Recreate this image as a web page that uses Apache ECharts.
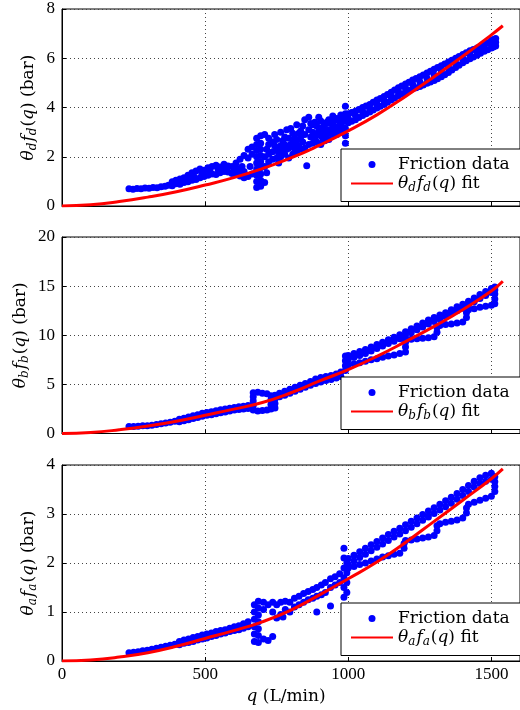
<!DOCTYPE html>
<html>
<head>
<meta charset="utf-8">
<script src="https://cdn.jsdelivr.net/npm/echarts@6/dist/echarts.min.js"></script>
<style>
html, body { margin: 0; padding: 0; background: #fff; }
#chart { width: 520px; height: 710px; }
</style>
</head>
<body>
<div id="chart"></div>
<script>
// fitted curves, sampled along q (L/min)
var fitQ = [0, 100, 200, 300, 400, 500, 600, 700, 800, 900, 1000, 1100, 1200, 1300, 1400, 1500, 1540];
var fitD = [0, 0.05, 0.18, 0.36, 0.58, 0.85, 1.15, 1.52, 1.95, 2.47, 3.05, 3.70, 4.45, 5.25, 6.08, 6.95, 7.32];
var fitB = [0, 0.10, 0.38, 0.76, 1.25, 1.86, 2.48, 3.15, 4.15, 5.35, 6.50, 7.85, 9.35, 10.90, 12.60, 14.50, 15.50];
var fitA = [0, 0.02, 0.08, 0.17, 0.30, 0.46, 0.62, 0.80, 1.04, 1.35, 1.68, 2.02, 2.42, 2.85, 3.28, 3.72, 3.92];

// friction data: each row is [q, value, value, ...] (all points measured at that q)
var frictionD = [
  [234,0.70],[248,0.68],[262,0.71],[276,0.70],[290,0.73],[304,0.72],[318,0.75],[332,0.74],[346,0.78],[360,0.80],[372,0.84],
  [385,0.82,0.98],[398,0.90,1.05],[405,0.95],[412,0.88,1.10],[426,0.95,1.15],[433,1.05],[440,0.98,1.25],[454,1.05,1.35],
  [461,1.20],[468,1.08,1.42],[482,1.15,1.50],[489,1.30],[496,1.20,1.45],[510,1.25,1.55],[517,1.40],[524,1.30,1.60],
  [538,1.28,1.65],[545,1.50],[552,1.35,1.58],[566,1.40,1.70],[573,1.55],[580,1.38,1.62],[594,1.32,1.60],[601,1.45],
  [608,1.30,1.55,1.75],[622,1.22,1.45,1.90],[629,1.60],[636,1.15,1.40,2.05],[650,1.20,1.95,2.30],[657,1.60],
  [664,1.30,2.10,2.40],
  [680,0.75,1.00,1.25,1.50,1.75,2.00,2.25,2.50,2.75],[694,0.80,1.05,1.30,1.55,1.80,2.05,2.30,2.55,2.85],
  [708,0.95,1.60,2.00,2.90],[715,1.35,2.30],[722,1.80,2.10,2.50,2.75],[736,1.90,2.20,2.60],[743,2.45,2.90],
  [750,1.95,2.30,2.70],[757,1.75,2.15],[764,2.00,2.45,3.00],[771,2.25,2.65],[778,2.10,2.50,2.80],[785,2.30,3.10],
  [792,1.95,2.35,2.75],[799,2.50,3.15],[806,2.10,2.55,2.95],[813,2.35,2.75],[820,2.20,2.65,3.30],[827,2.45,2.95],
  [834,2.30,2.80,3.05],[841,2.60,3.25],[848,2.35,2.90,3.50],[855,1.63],[862,2.50,3.10,3.60],[869,2.80,3.35],
  [876,2.55,3.00,3.30],[883,2.75,3.40],[890,2.60,2.90,3.25],[897,3.05,3.60],[904,2.50,2.85,3.45],[911,2.75,3.20],
  [918,2.65,3.00,3.30],[925,2.90,3.40],[932,2.70,3.10,3.50],[939,3.00,3.35],[946,2.90,3.30,3.65],[953,3.10,3.50],
  [960,2.90,3.20,3.55],[967,3.05,3.45],[974,3.00,3.35,3.70],[981,3.20,3.60],
  [990,2.55,2.85,3.15,3.45,3.75,4.05],
  [1000,3.38,3.56,3.75],[1012,3.44,3.80],[1025,3.50,3.68,3.85],[1037,3.59,3.92],[1050,3.68,3.84,4.00],[1062,3.75,4.06],
  [1075,3.82,3.97,4.12],[1087,3.90,4.21],[1100,3.98,4.14,4.30],[1112,4.05,4.37],[1125,4.12,4.28,4.45],[1137,4.21,4.53],
  [1150,4.30,4.46,4.62],[1162,4.39,4.71],[1175,4.48,4.64,4.80],[1187,4.55,4.87],[1200,4.62,4.78,4.95],[1212,4.69,5.03],
  [1225,4.76,4.94,5.12],[1237,4.80,5.18],[1250,4.85,5.05,5.25],[1262,4.91,5.32],[1275,4.98,5.19,5.40],[1287,5.04,5.47],
  [1300,5.10,5.32,5.55],[1312,5.17,5.62],[1325,5.25,5.48,5.70],[1337,5.33,5.77],[1350,5.42,5.64,5.85],[1362,5.52,5.92],
  [1375,5.62,5.81,6.00],[1387,5.72,6.07],[1400,5.82,5.98,6.15],[1412,5.90,6.22],[1425,5.98,6.14,6.30],[1437,6.05,6.36],
  [1450,6.12,6.27,6.42],[1462,6.20,6.48],[1475,6.28,6.42,6.55],[1487,6.35,6.63],[1500,6.42,6.57,6.72],[1507,6.46,6.76],
  [1515,6.50,6.65,6.80]
];

var frictionB = [
  [234,0.72],[250,0.70],[266,0.74],[282,0.78],[298,0.80],[314,0.85],[330,0.92],[346,1.00],[362,1.08],[378,1.15],[394,1.25],
  [410,1.20,1.45],[426,1.30,1.55],[442,1.40,1.68],[458,1.52,1.80],[474,1.62,1.92],[490,1.75,2.05],[506,1.85,2.15],
  [522,1.92,2.22],[538,2.00,2.32],[554,2.10,2.42],[570,2.20,2.50],[586,2.30,2.58],[602,2.38,2.65],[618,2.45,2.72],
  [634,2.50,2.78],[650,2.55,2.85],
  [668,2.40,2.85,3.30,3.75,4.15],[684,2.30,4.20],[700,2.35,4.10],[716,2.40,4.05],[730,2.50,2.95,3.40,3.85],
  [744,2.60,3.05,3.50,3.90],
  [760,3.75,4.10],[778,3.90,4.30],[796,4.10,4.50],[814,4.30,4.70],[832,4.50,4.90],[850,4.70,5.10],[868,4.90,5.30],
  [886,5.10,5.55],[904,5.25,5.70],[922,5.40,5.80],[940,5.50,5.90],[958,5.65,6.05],[974,5.80,6.25],
  [990,6.40,6.90,7.40,7.90],
  [1000,7.00,7.55,7.95],[1020,7.10,7.75,8.15],[1040,7.20,7.95,8.35],[1060,7.35,8.15,8.55],[1080,7.50,8.40,8.80],
  [1100,7.60,8.65,9.05],[1120,7.75,8.90,9.30],[1140,7.90,9.15,9.55],[1160,8.00,9.40,9.80],[1180,8.15,9.65,10.05],
  [1200,8.30,8.80,9.25,9.60,9.95,10.35],
  [1220,9.60,10.25,10.65],[1240,9.65,10.55,10.95],[1260,9.70,10.85,11.25],[1280,9.75,11.15,11.55],[1300,9.85,11.40,11.80],
  [1310,10.30,10.80],
  [1320,11.00,11.65,12.05],[1340,11.10,11.90,12.30],[1360,11.15,12.20,12.60],[1380,11.25,12.50,12.90],[1400,11.35,12.75,13.15],
  [1413,11.80,12.30],
  [1420,12.60,13.05,13.45],[1440,12.70,13.40,13.80],[1460,12.85,13.75,14.15],[1480,12.95,14.05,14.45],[1500,13.05,14.35,14.75],
  [1512,13.20,13.70,14.20,14.60,14.90]
];

var frictionA = [
  [234,0.17],[250,0.18],[266,0.19],[282,0.21],[298,0.22],[314,0.24],[330,0.26],[346,0.28],[362,0.30],[378,0.32],[394,0.34],
  [410,0.33,0.40],[426,0.36,0.43],[442,0.38,0.45],[458,0.40,0.48],[474,0.43,0.50],[490,0.45,0.53],[506,0.47,0.55],
  [522,0.50,0.57],[538,0.52,0.60],[554,0.55,0.62],[570,0.57,0.64],[586,0.60,0.67],[602,0.62,0.70],[618,0.64,0.72],
  [634,0.67,0.76],[650,0.70,0.80],
  [672,0.40,0.55,0.70,0.85,1.00,1.15],[686,0.38,0.52,0.66,0.80,0.94,1.08,1.22],
  [704,0.45,1.05,1.20],[720,0.42,1.15],[736,0.50,1.00,1.20],[750,0.88,1.15],[764,0.95,1.20],[772,0.90],[780,1.05,1.22],
  [796,1.00,1.20],[812,1.10,1.28],[828,1.15,1.32],[844,1.20,1.38],[860,1.25,1.42],[876,1.28,1.46],[890,1.00,1.32,1.50],
  [906,1.35,1.55],[920,1.40,1.60],[938,1.12,1.50,1.68],[954,1.55,1.72],[970,1.60,1.78],
  [985,1.30,1.50,1.70,1.90,2.10,2.30],[995,1.40,1.60,1.80,2.00],
  [1000,1.90,1.97,2.09],[1020,1.93,2.04,2.16],[1040,1.97,2.11,2.23],[1060,2.00,2.18,2.30],[1080,2.04,2.25,2.37],
  [1100,2.08,2.32,2.44],[1120,2.12,2.39,2.51],[1140,2.15,2.46,2.58],[1160,2.18,2.53,2.65],[1180,2.20,2.59,2.71],
  [1195,2.30,2.40],
  [1200,2.46,2.66,2.78],[1220,2.47,2.73,2.85],[1240,2.49,2.80,2.92],[1260,2.51,2.87,2.99],[1280,2.53,2.94,3.06],
  [1300,2.56,3.01,3.13],[1310,2.66,2.76],
  [1320,2.80,3.08,3.20],[1340,2.83,3.15,3.27],[1360,2.85,3.22,3.34],[1380,2.88,3.30,3.42],[1400,2.92,3.38,3.50],
  [1413,3.02,3.12],
  [1420,3.20,3.46,3.58],[1440,3.24,3.55,3.67],[1460,3.28,3.62,3.74],[1480,3.32,3.67,3.79],[1500,3.36,3.71,3.83],
  [1512,3.46,3.56,3.66,3.76]
];

// axis ranges of the three panels (top to bottom)
var yMax = [8, 20, 4];
var yStep = [2, 5, 1];
var subs = ['d', 'b', 'a'];
var fitNames = ['θd fd(q) fit', 'θb fb(q) fit', 'θa fa(q) fit'];

var chart = echarts.init(document.getElementById('chart'));

var NUMFONT = 'Liberation Serif';
var FONT = 'DejaVu Serif';
var rich = {
  it: { fontFamily: FONT, fontStyle: 'italic', fontSize: 17, lineHeight: 20, color: '#000' },
  rm: { fontFamily: FONT, fontSize: 17, lineHeight: 20, color: '#000' },
  sub: { fontFamily: FONT, fontStyle: 'italic', fontSize: 12, lineHeight: 13, verticalAlign: 'bottom', color: '#000', padding: [0, 1, 0, 0] }
};

function mathLabel(s, tail) {
  return '{it|θ}{sub|' + s + '}{it|f}{sub|' + s + '}{rm|(}{it|q}{rm|)' + tail + '}';
}

function toPoints(rows) {
  var pts = [];
  rows.forEach(function (r) {
    for (var k = 1; k < r.length; k++) pts.push([r[0], r[k]]);
  });
  return pts;
}

var tops = [9, 237, 465];
var heights = [197, 196.5, 196];
var legendTops = [149, 377, 603];
var nameGaps = [23, 31, 23];
var fits = [fitD, fitB, fitA];
var clouds = [frictionD, frictionB, frictionA];

var grids = [], xAxes = [], yAxes = [], legends = [], series = [];

for (var i = 0; i < 3; i++) {
  grids.push({
    left: 62, right: -8, top: tops[i], height: heights[i],
    show: true, borderColor: '#000', borderWidth: 1, backgroundColor: 'transparent'
  });
  xAxes.push({
    gridIndex: i, type: 'value', min: 0, max: 1600, interval: 500,
    axisLine: { show: true, lineStyle: { color: '#000', width: 1 } },
    axisTick: { show: true, inside: true, length: 4, lineStyle: { color: '#000' } },
    axisLabel: {
      show: i === 2, fontFamily: NUMFONT, fontSize: 17, color: '#000', margin: 5,
      formatter: function (v) { return String(v); }
    },
    splitLine: { show: true, lineStyle: { color: '#444', width: 1, type: [1, 3] } },
    name: i === 2 ? '{it|q}{rm| (L/min)}' : '',
    nameLocation: 'middle', nameGap: 26, nameMoveOverlap: false,
    nameTextStyle: { rich: rich, padding: [0, 10, 0, 0] }
  });
  yAxes.push({
    gridIndex: i, type: 'value', min: 0, max: yMax[i], interval: yStep[i],
    axisLine: { show: true, lineStyle: { color: '#000', width: 1 } },
    axisTick: { show: true, inside: true, length: 4, lineStyle: { color: '#000' } },
    axisLabel: { fontFamily: NUMFONT, fontSize: 17, color: '#000', margin: 7 },
    splitLine: { show: true, lineStyle: { color: '#444', width: 1, type: [1, 3] } },
    name: mathLabel(subs[i], ' (bar)'),
    nameLocation: 'middle', nameRotate: 90, nameGap: nameGaps[i], nameMoveOverlap: false,
    nameTextStyle: { rich: rich }
  });
  (function (idx) {
    legends.push({
      left: 341, top: legendTops[idx], orient: 'vertical', selectedMode: false,
      backgroundColor: '#fff', borderColor: '#000', borderWidth: 1, borderRadius: 0,
      padding: [7, 40, 8, 9], itemWidth: 42, itemHeight: 7, itemGap: 2,
      data: [
        { name: 'Friction data', icon: 'circle' },
        { name: fitNames[idx], itemStyle: { opacity: 0 } }
      ],
      formatter: function (n) {
        return n === 'Friction data' ? '{rm|Friction data}' : mathLabel(subs[idx], ' fit');
      },
      textStyle: { rich: rich }
    });
  })(i);
  series.push({
    type: 'scatter', name: 'Friction data', xAxisIndex: i, yAxisIndex: i,
    data: toPoints(clouds[i]), symbolSize: 7, silent: true, z: 2,
    itemStyle: { color: '#0000ff', opacity: 1 }
  });
  series.push({
    type: 'line', name: fitNames[i], xAxisIndex: i, yAxisIndex: i,
    data: fitQ.map(function (q, k) { return [q, fits[i][k]]; }),
    smooth: true, symbol: 'none', silent: true, z: 3,
    lineStyle: { color: '#ff0000', width: 3 }, itemStyle: { color: '#ff0000' }
  });
}

chart.setOption({
  animation: false,
  backgroundColor: '#fff',
  grid: grids,
  xAxis: xAxes,
  yAxis: yAxes,
  legend: legends,
  series: series
});
</script>
</body>
</html>
